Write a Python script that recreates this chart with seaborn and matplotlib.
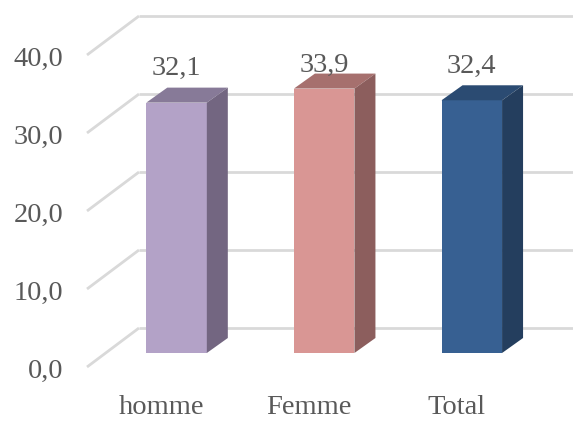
import matplotlib

matplotlib.use("Agg")
import matplotlib.pyplot as plt
import pandas as pd
import seaborn as sns
from matplotlib.patches import Polygon
from matplotlib.transforms import ScaledTranslation

categories = ["homme", "Femme", "Total"]
values = [32.1, 33.9, 32.4]
value_labels = ["32,1", "33,9", "32,4"]
y_ticks = [0, 10, 20, 30, 40]
y_tick_labels = ["0,0", "10,0", "20,0", "30,0", "40,0"]

FRONT = ["#B3A2C7", "#D99694", "#376092"]
TOP = ["#877A98", "#A6706E", "#2B4B72"]
SIDE = ["#736681", "#8C5E5D", "#243E5E"]
TEXT = "#595959"
GRID = "#D9D9D9"

DPI = 100
W, H = 573, 423
# front plane of the bars, in output pixels
LEFT, RIGHT, BOTTOM, TOP_PX = 105.7, 539.7, 353, 41
# fake 3D offsets in pixels (right, up)
WALL = (33.3, 25)
FLOOR = (-18.7, -14)
DEPTH = (21, 15)
FONT_SIZE = 20.5


def shift(fig, dx, dy):
    return ScaledTranslation(dx / DPI, dy / DPI, fig.dpi_scale_trans)


data = pd.DataFrame({"category": categories, "value": values})

sns.set_theme(style="white")
plt.rcParams["font.family"] = ["Liberation Serif", "DejaVu Serif"]

fig = plt.figure(figsize=(W / DPI, H / DPI), dpi=DPI)
ax = fig.add_axes(
    [LEFT / W, (H - BOTTOM) / H, (RIGHT - LEFT) / W, (BOTTOM - TOP_PX) / H]
)
sns.barplot(
    data=data,
    x="category",
    y="value",
    hue="category",
    palette=FRONT,
    saturation=1,
    width=0.41,
    legend=False,
    linewidth=0,
    edgecolor="none",
    ax=ax,
    zorder=3,
)
ax.set_xlim(-0.48, 2.46)
ax.set_ylim(0, 40)
ax.set_xlabel("")
ax.set_ylabel("")
sns.despine(ax=ax, left=True, bottom=True)

# pixel -> data conversion for the depth effect
origin = ax.transData.transform([(0, 0)])[0]
unit = ax.transData.transform([(1, 1)])[0] - origin


def px(dx, dy):
    return dx / unit[0], dy / unit[1]


xmin, xmax = ax.get_xlim()
wx, wy = px(*WALL)
fx, fy = px(*FLOOR)
for v in y_ticks:
    ax.plot([xmin + wx, xmax + wx], [v + wy, v + wy], color=GRID, lw=2,
            clip_on=False, zorder=0, solid_capstyle="butt")
    ax.plot([xmin + fx, xmin + wx], [v + fy, v + wy], color=GRID, lw=2,
            clip_on=False, zorder=0, solid_capstyle="butt")

ddx, ddy = px(*DEPTH)
for patch, top, side in zip(ax.patches, TOP, SIDE):
    x0, w, h = patch.get_x(), patch.get_width(), patch.get_height()
    ax.add_patch(Polygon(
        [(x0, h), (x0 + w, h), (x0 + w + ddx, h + ddy), (x0 + ddx, h + ddy)],
        closed=True, facecolor=top, edgecolor="none", zorder=3, clip_on=False))
    ax.add_patch(Polygon(
        [(x0 + w, 0), (x0 + w + ddx, ddy), (x0 + w + ddx, h + ddy), (x0 + w, h)],
        closed=True, facecolor=side, edgecolor="none", zorder=3, clip_on=False))

for i, (v, label) in enumerate(zip(values, value_labels)):
    ax.text(i, min(v + 3.5, 36.0), label, ha="center", va="baseline",
            fontsize=FONT_SIZE, color=TEXT, clip_on=False)

ax.set_xticks(range(len(categories)), categories)
ax.set_yticks(y_ticks, y_tick_labels)
ax.tick_params(axis="both", length=0, labelsize=FONT_SIZE, labelcolor=TEXT)
ax.tick_params(axis="x", pad=30)
ax.tick_params(axis="y", pad=30.5)
for label in ax.get_xticklabels():
    label.set_transform(label.get_transform() + shift(fig, -15, 0))
for label in ax.get_yticklabels():
    label.set_transform(label.get_transform() + shift(fig, 0, -15))

fig.savefig("out.png", dpi=DPI)
plt.close(fig)
